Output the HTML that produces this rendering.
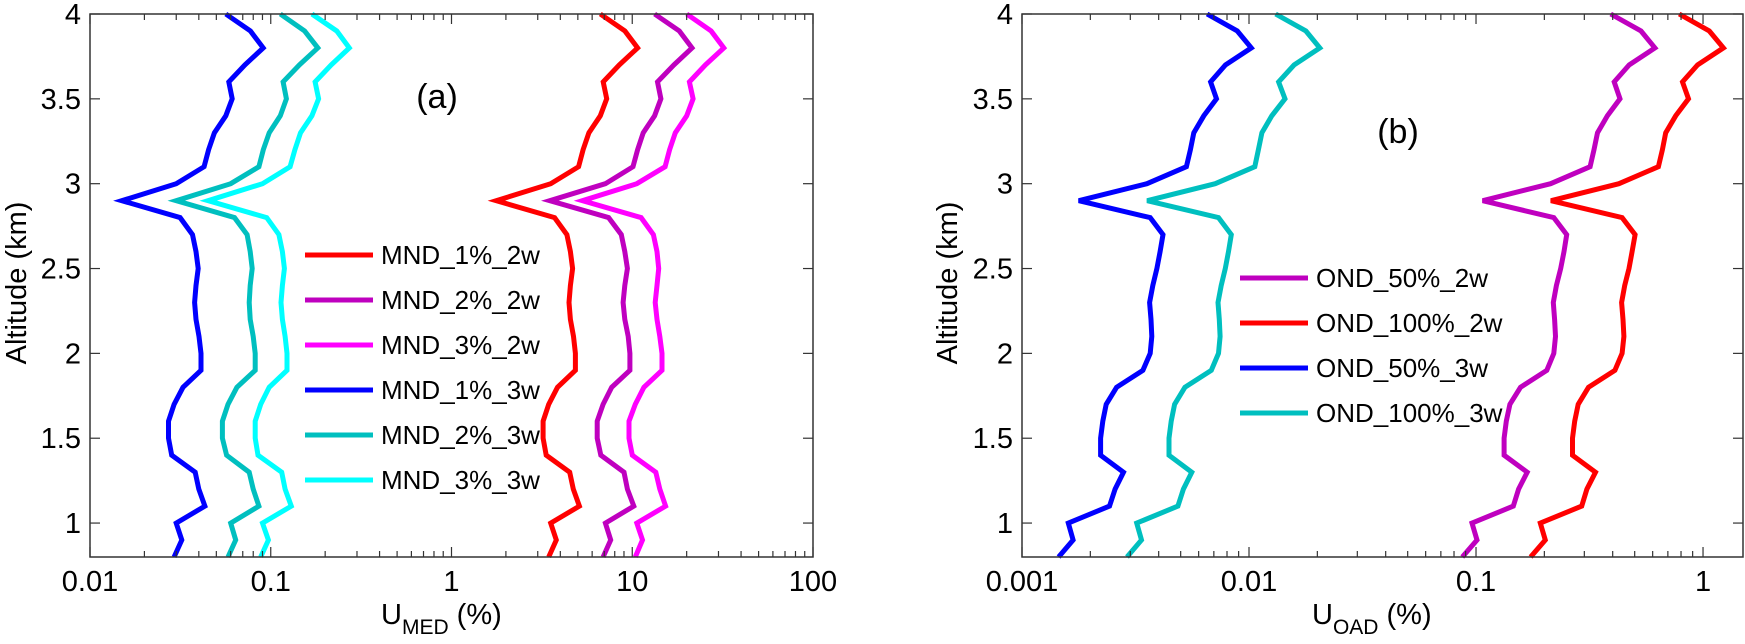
<!DOCTYPE html>
<html><head><meta charset="utf-8"><style>
html,body{margin:0;padding:0;background:#fff;}
svg{display:block;font-family:"Liberation Sans",sans-serif;}
</style></head><body>
<svg id="chart" width="1745" height="644" viewBox="0 0 1745 644"></svg>
<script>
const altitudes=[0.8,0.9,1.0,1.1,1.2,1.3,1.4,1.5,1.6,1.7,1.8,1.9,2.0,2.1,2.2,2.3,2.4,2.5,2.6,2.7,2.8,2.9,3.0,3.1,3.2,3.3,3.4,3.5,3.6,3.7,3.8,3.9,4.0];
const mnd1_2w=[3.45,3.80,3.54,5.10,4.72,4.51,3.34,3.21,3.21,3.45,3.86,4.85,4.85,4.73,4.55,4.47,4.55,4.68,4.55,4.35,3.72,1.77,3.54,5.05,5.35,5.76,6.66,7.22,6.91,8.48,10.7,9.11,6.66];
const mnd2_2w=[6.9,7.6,7.1,10.2,9.4,9.0,6.7,6.4,6.4,6.9,7.7,9.7,9.7,9.5,9.1,8.9,9.1,9.4,9.1,8.7,7.4,3.5,7.1,10.1,10.7,11.5,13.3,14.4,13.8,17.0,21.4,18.2,13.3];
const mnd3_2w=[10.4,11.4,10.6,15.3,14.2,13.5,10.0,9.6,9.6,10.4,11.6,14.6,14.6,14.2,13.7,13.4,13.7,14.0,13.7,13.1,11.2,5.3,10.6,15.2,16.1,17.3,20.0,21.7,20.7,25.4,32.1,27.3,20.0];
const mnd1_3w=[0.0292,0.0322,0.0300,0.0432,0.0400,0.0382,0.0283,0.0272,0.0272,0.0292,0.0327,0.0411,0.0411,0.0401,0.0386,0.0379,0.0386,0.0397,0.0386,0.0369,0.0315,0.0150,0.0300,0.0428,0.0453,0.0488,0.0564,0.0612,0.0586,0.0719,0.0908,0.0772,0.0564];
const mnd2_3w=[0.058,0.064,0.060,0.086,0.080,0.076,0.057,0.054,0.054,0.058,0.065,0.082,0.082,0.080,0.077,0.076,0.077,0.079,0.077,0.074,0.063,0.030,0.060,0.086,0.091,0.098,0.113,0.122,0.117,0.144,0.182,0.154,0.113];
const mnd3_3w=[0.088,0.097,0.090,0.130,0.120,0.115,0.085,0.082,0.082,0.088,0.098,0.123,0.123,0.120,0.116,0.114,0.116,0.119,0.116,0.111,0.095,0.045,0.090,0.128,0.136,0.146,0.169,0.184,0.176,0.216,0.272,0.232,0.169];
const ond50_2w=[0.087,0.101,0.096,0.146,0.154,0.168,0.133,0.133,0.136,0.141,0.157,0.205,0.220,0.224,0.222,0.219,0.226,0.236,0.244,0.251,0.220,0.107,0.213,0.318,0.331,0.343,0.379,0.431,0.406,0.473,0.614,0.533,0.392];
const ond100_2w=[0.174,0.202,0.192,0.292,0.308,0.336,0.266,0.266,0.272,0.282,0.313,0.409,0.440,0.448,0.444,0.438,0.452,0.472,0.487,0.502,0.440,0.214,0.426,0.636,0.662,0.685,0.758,0.863,0.812,0.946,1.229,1.066,0.785];
const ond50_3w=[0.00145,0.00168,0.00160,0.00243,0.00257,0.00280,0.00222,0.00222,0.00227,0.00235,0.00261,0.00341,0.00367,0.00373,0.00370,0.00365,0.00377,0.00393,0.00406,0.00418,0.00367,0.00178,0.00355,0.00530,0.00552,0.00571,0.00632,0.00719,0.00677,0.00788,0.01024,0.00888,0.00654];
const ond100_3w=[0.0029,0.00336,0.0032,0.00486,0.00514,0.0056,0.00444,0.00444,0.00454,0.0047,0.00522,0.00682,0.00734,0.00746,0.0074,0.0073,0.00754,0.00786,0.00812,0.00836,0.00734,0.00356,0.0071,0.0106,0.0110,0.0114,0.0126,0.0144,0.0135,0.0158,0.0205,0.0178,0.0131];
const yTicks=[1,1.5,2,2.5,3,3.5,4];
const yTickLabels=["1","1.5","2","2.5","3","3.5","4"];
const xTicksA=[0.01,0.1,1,10,100];
const xTickLabelsA=["0.01","0.1","1","10","100"];
const xTicksB=[0.001,0.01,0.1,1];
const xTickLabelsB=["0.001","0.01","0.1","1"];
const legendA=["MND_1%_2w","MND_2%_2w","MND_3%_2w","MND_1%_3w","MND_2%_3w","MND_3%_3w"];
const legendB=["OND_50%_2w","OND_100%_2w","OND_50%_3w","OND_100%_3w"];

const NS="http://www.w3.org/2000/svg";
const svg=document.getElementById('chart');
function mk(tag,attrs,parent){const e=document.createElementNS(NS,tag);for(const k in attrs)e.setAttribute(k,attrs[k]);(parent||svg).appendChild(e);return e;}

const Y0=14,Y1=557;
function yScale(a){return Y0+(4-a)/(4-0.8)*(Y1-Y0);}

function panel(opts){
  const g=mk('g',{});
  
  
  const L=opts.left,R=opts.right,lmin=Math.log10(opts.xmin),lmax=Math.log10(opts.xmax);
  const xs=v=>L+(Math.log10(v)-lmin)/(lmax-lmin)*(R-L);
  opts.series.forEach((s,i)=>{
    const pts=s.vals.map((v,j)=>xs(v).toFixed(1)+','+yScale(altitudes[j]).toFixed(1)).join(' ');
    const p=mk('polyline',{points:pts,fill:'none',stroke:s.color,'stroke-width':5,'stroke-linejoin':'miter'},g);
    
    
  });
  const box=mk('rect',{x:L,y:Y0,width:R-L,height:Y1-Y0,fill:'none',stroke:'#333','stroke-width':1.5},g);
  
  
  for(let d=Math.floor(lmin);d<=Math.ceil(lmax);d++){
    for(let m=1;m<10;m++){
      const v=m*Math.pow(10,d);const lv=Math.log10(v);
      if(lv<lmin-1e-9||lv>lmax+1e-9)continue;
      const x=xs(v);const len=m===1?10:6;
      mk('line',{x1:x,y1:Y1,x2:x,y2:Y1-len,stroke:'#333','stroke-width':1.2},g);
      mk('line',{x1:x,y1:Y0,x2:x,y2:Y0+len,stroke:'#333','stroke-width':1.2},g);
    }
  }
  opts.xt.forEach((v,i)=>{
    const t=mk('text',{x:xs(v),y:591,'text-anchor':'middle','font-size':29,fill:'#000'},g);
    t.textContent=opts.xl[i];
    
    
  });
  yTicks.forEach((v,i)=>{
    const y=yScale(v);
    mk('line',{x1:L,y1:y,x2:L+10,y2:y,stroke:'#333','stroke-width':1.2},g);
    mk('line',{x1:R,y1:y,x2:R-10,y2:y,stroke:'#333','stroke-width':1.2},g);
    const t=mk('text',{x:L-9,y:y+10,'text-anchor':'end','font-size':29,fill:'#000'},g);
    t.textContent=yTickLabels[i];
    
    
  });
  const yt=mk('text',{x:0,y:0,'text-anchor':'middle','font-size':29,fill:'#000',transform:'translate('+opts.ytx+',283) rotate(-90)'},g);
  yt.textContent='Altitude (km)';
  
  
  const xt=mk('text',{x:opts.xtx,y:624,'font-size':29,fill:'#000'},g);
  xt.innerHTML='U<tspan font-size="21" dy="10">'+opts.sub+'</tspan><tspan dy="-10"> (%)</tspan>';
  
  
  const pl=mk('text',{x:opts.plx,y:opts.ply,'text-anchor':'middle','font-size':34,fill:'#000'},g);
  pl.textContent=opts.panelLabel;
  
  
  const lg=mk('g',{},g);
  
  
  opts.series.forEach((s,i)=>{
    const y=opts.legY+i*opts.legDy;
    const e=mk('g',{},lg);
    
    
    mk('line',{x1:opts.legX,y1:y,x2:opts.legX+68,y2:y,stroke:s.color,'stroke-width':5},e);
    const t=mk('text',{x:opts.legX+76,y:y+9,'font-size':26,fill:'#000'},e);
    t.textContent=opts.legend[i];
  });
}

panel({name:'panel-a',left:90,right:813,xmin:0.01,xmax:100,xt:xTicksA,xl:xTickLabelsA,ytx:26,xtx:381,sub:'MED',panelLabel:'(a)',plx:437,ply:108,
  legX:305,legY:255,legDy:45,legend:legendA,
  series:[{label:legendA[0],vals:mnd1_2w,color:'#ff0000'},{label:legendA[1],vals:mnd2_2w,color:'#bf00bf'},{label:legendA[2],vals:mnd3_2w,color:'#ff00ff'},
          {label:legendA[3],vals:mnd1_3w,color:'#0000ff'},{label:legendA[4],vals:mnd2_3w,color:'#00bfbf'},{label:legendA[5],vals:mnd3_3w,color:'#00ffff'}]});
panel({name:'panel-b',left:1022,right:1743,xmin:0.001,xmax:1.5,xt:xTicksB,xl:xTickLabelsB,ytx:957,xtx:1312,sub:'OAD',panelLabel:'(b)',plx:1398,ply:143,
  legX:1240,legY:278,legDy:45,legend:legendB,
  series:[{label:legendB[0],vals:ond50_2w,color:'#bf00bf'},{label:legendB[1],vals:ond100_2w,color:'#ff0000'},
          {label:legendB[2],vals:ond50_3w,color:'#0000ff'},{label:legendB[3],vals:ond100_3w,color:'#00bfbf'}]});
</script>
</body></html>
